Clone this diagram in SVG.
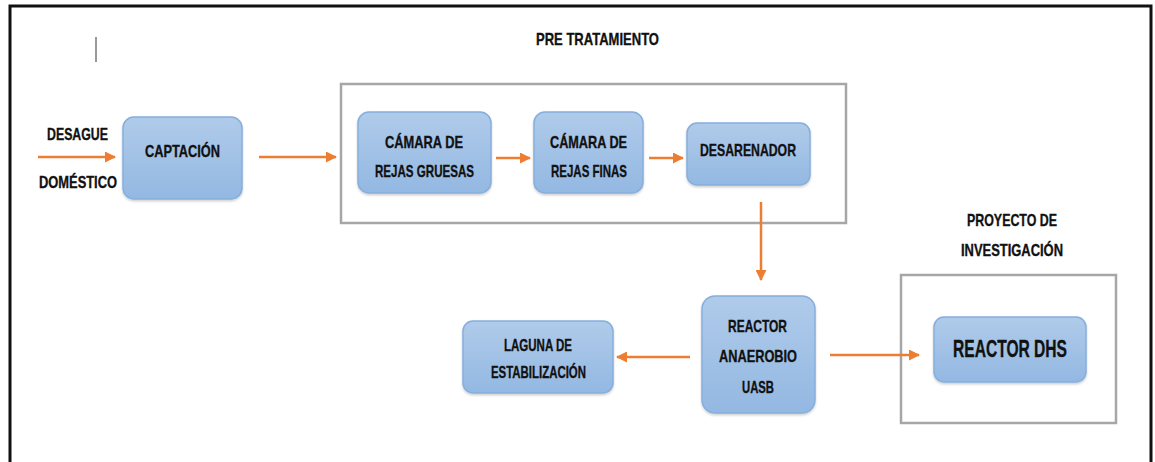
<svg xmlns="http://www.w3.org/2000/svg" width="1155" height="462" viewBox="0 0 1155 462">
<defs>
<linearGradient id="bg" x1="0" y1="0" x2="0" y2="1">
<stop offset="0" stop-color="#b0cbea"/>
<stop offset="1" stop-color="#93b8e2"/>
</linearGradient>
<marker id="ah" markerWidth="11" markerHeight="11" refX="10" refY="5.5" orient="auto" markerUnits="userSpaceOnUse">
<path d="M0,0 L11,5.5 L0,11 Z" fill="#ed7d31"/>
</marker>
<filter id="sh" x="-10%" y="-10%" width="120%" height="130%">
<feDropShadow dx="0" dy="1.5" stdDeviation="1" flood-color="#000" flood-opacity="0.2"/>
</filter>
</defs>
<style>
.node{fill:url(#bg);stroke:#86aedd;stroke-width:1.5;filter:url(#sh)}
.frame{fill:none;stroke:#a6a6a6;stroke-width:2.5}
.t{font-family:"Liberation Sans",Arial,sans-serif;font-weight:bold;font-size:17px;fill:#111;stroke:#111;stroke-width:0.35}
.big{font-size:23px}
.conn line{stroke:#ed7d31;stroke-width:2.5;marker-end:url(#ah)}
</style>
<rect width="1155" height="462" fill="#fff"/>
<path d="M10,470 V6 H1151 V470" fill="none" stroke="#111" stroke-width="3"/>
<line x1="96" y1="37" x2="96" y2="62" stroke="#777" stroke-width="1.5"/>

<g id="pretratamiento">
<rect class="frame" x="341" y="84" width="505" height="139"/>
<text class="t" x="536" y="45" textLength="123" lengthAdjust="spacingAndGlyphs">PRE TRATAMIENTO</text>
</g>
<g id="proyecto">
<rect class="frame" x="901" y="275" width="215" height="148"/>
<text class="t" x="967" y="226" textLength="90" lengthAdjust="spacingAndGlyphs">PROYECTO DE</text>
<text class="t" x="961" y="256" textLength="102" lengthAdjust="spacingAndGlyphs">INVESTIGACIÓN</text>
</g>
<g id="desague">
<text class="t" x="47" y="140" textLength="61" lengthAdjust="spacingAndGlyphs">DESAGUE</text>
<text class="t" x="39" y="188" textLength="78" lengthAdjust="spacingAndGlyphs">DOMÉSTICO</text>
</g>
<g id="captacion">
<rect class="node" x="123" y="117" width="119" height="82" rx="11"/>
<text class="t" x="145" y="157" textLength="75" lengthAdjust="spacingAndGlyphs">CAPTACIÓN</text>
</g>
<g id="rejas-gruesas">
<rect class="node" x="358" y="112" width="133" height="81" rx="11"/>
<text class="t" x="385" y="148" textLength="78" lengthAdjust="spacingAndGlyphs">CÁMARA DE</text>
<text class="t" x="375" y="177" textLength="99" lengthAdjust="spacingAndGlyphs">REJAS GRUESAS</text>
</g>
<g id="rejas-finas">
<rect class="node" x="534" y="112" width="109" height="81" rx="11"/>
<text class="t" x="550" y="148" textLength="77" lengthAdjust="spacingAndGlyphs">CÁMARA DE</text>
<text class="t" x="551" y="177" textLength="76" lengthAdjust="spacingAndGlyphs">REJAS FINAS</text>
</g>
<g id="desarenador">
<rect class="node" x="687" y="123" width="123" height="62" rx="10"/>
<text class="t" x="700" y="156" textLength="96" lengthAdjust="spacingAndGlyphs">DESARENADOR</text>
</g>
<g id="uasb">
<rect class="node" x="702" y="296" width="113" height="117" rx="13"/>
<text class="t" x="728" y="332" textLength="59" lengthAdjust="spacingAndGlyphs">REACTOR</text>
<text class="t" x="719" y="362" textLength="78" lengthAdjust="spacingAndGlyphs">ANAEROBIO</text>
<text class="t" x="742" y="393" textLength="32" lengthAdjust="spacingAndGlyphs">UASB</text>
</g>
<g id="laguna">
<rect class="node" x="463" y="321" width="150" height="72" rx="10"/>
<text class="t" x="504" y="351" textLength="68" lengthAdjust="spacingAndGlyphs">LAGUNA DE</text>
<text class="t" x="491" y="378" textLength="95" lengthAdjust="spacingAndGlyphs">ESTABILIZACIÓN</text>
</g>
<g id="dhs">
<rect class="node" x="934" y="317" width="152" height="65" rx="10"/>
<text class="t big" x="953" y="357" textLength="114" lengthAdjust="spacingAndGlyphs">REACTOR DHS</text>
</g>

<g class="conn" id="connectors">
<line x1="38" y1="157" x2="115" y2="157"/>
<line x1="259" y1="157" x2="336" y2="157"/>
<line x1="496" y1="158" x2="530" y2="158"/>
<line x1="649" y1="158" x2="683" y2="158"/>
<line x1="761" y1="202" x2="761" y2="280"/>
<line x1="690" y1="357" x2="617" y2="357"/>
<line x1="830" y1="355" x2="919" y2="355"/>
</g>
</svg>
